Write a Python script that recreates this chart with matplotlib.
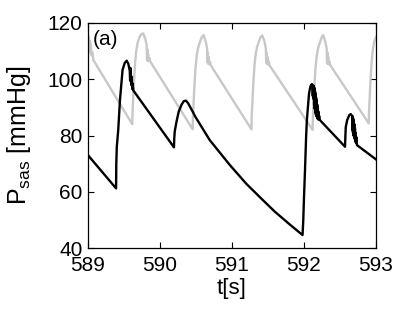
import matplotlib
matplotlib.use("Agg")
import matplotlib.pyplot as plt

plt.rcParams['font.family'] = ['Liberation Sans', 'DejaVu Sans']
plt.rcParams['mathtext.fontset'] = 'custom'
plt.rcParams['mathtext.rm'] = 'Liberation Sans'

# Grey series (reference pressure)
grey_t = [589.000, 589.015, 589.025, 589.030, 589.035, 589.040, 589.050, 589.060, 589.075,
          589.615, 589.618, 589.627, 589.640, 589.655, 589.670, 589.690, 589.715, 589.740, 589.765,
          589.795, 589.815, 589.820, 589.825, 589.830, 589.835, 589.845, 589.855, 589.865,
          590.454, 590.457, 590.466, 590.479, 590.494, 590.509, 590.529, 590.554, 590.579, 590.604,
          590.634, 590.654, 590.659, 590.664, 590.669, 590.674, 590.684, 590.694, 590.704,
          591.270, 591.273, 591.282, 591.295, 591.310, 591.325, 591.345, 591.370, 591.395, 591.420,
          591.450, 591.470, 591.475, 591.480, 591.485, 591.490, 591.500, 591.510, 591.520,
          592.120, 592.123, 592.132, 592.145, 592.160, 592.175, 592.195, 592.220, 592.245, 592.265,
          592.295, 592.315, 592.320, 592.325, 592.330, 592.335, 592.345, 592.355, 592.365,
          592.900, 592.903, 592.912, 592.925, 592.940, 592.955, 592.975, 593.000]
grey_p = [116.3, 114.0, 111.5, 113.5, 109.5, 112.0, 108.5, 109.5, 106.8,
          84.0, 88.0, 93.0, 100.0, 106.0, 110.0, 113.0, 115.0, 116.0, 116.3,
          114.5, 112.0, 107.0, 110.5, 106.5, 109.0, 106.5, 107.5, 106.3,
          82.2, 86.2, 91.2, 98.2, 104.2, 108.2, 111.2, 113.2, 114.9, 115.7,
          113.5, 111.0, 106.0, 109.5, 105.5, 108.0, 105.3, 106.3, 105.0,
          82.2, 86.2, 91.2, 98.2, 104.2, 108.2, 111.2, 113.2, 114.9, 115.6,
          113.5, 111.0, 106.0, 109.5, 105.5, 108.0, 105.3, 106.3, 105.0,
          82.0, 86.0, 91.0, 98.0, 104.0, 108.0, 111.0, 113.0, 114.9, 115.7,
          113.5, 111.0, 106.0, 109.5, 105.5, 108.0, 105.3, 106.3, 105.0,
          84.3, 88.3, 93.3, 100.3, 106.3, 110.3, 113.3, 115.0]

# Black series (P_sas)
black_t = [589.000, 589.390, 589.393, 589.400, 589.420, 589.444, 589.480, 589.510, 589.537,
           589.560, 589.580, 589.585, 589.590, 589.600, 589.605, 589.615, 589.620, 589.630,
           590.194, 590.198, 590.205, 590.230, 590.260, 590.300, 590.330, 590.360, 590.390,
           590.430, 590.460, 590.490, 590.690, 590.970, 591.200, 591.430, 591.600, 591.810,
           591.980, 591.990, 592.000, 592.014, 592.030, 592.040, 592.070, 592.090, 592.110,
           592.118, 592.122, 592.128, 592.132, 592.136, 592.140, 592.144, 592.148, 592.152,
           592.156, 592.160, 592.164, 592.168, 592.172, 592.176, 592.180, 592.184, 592.188,
           592.192, 592.196, 592.200, 592.205, 592.210, 592.220,
           592.570, 592.575, 592.580, 592.600, 592.630, 592.650, 592.668, 592.672, 592.676,
           592.680, 592.684, 592.688, 592.692, 592.696, 592.700, 592.704, 592.708, 592.712,
           592.716, 592.720, 592.726, 592.735, 593.000]
black_p = [73.0, 61.2, 70.0, 76.0, 82.0, 92.6, 103.3, 105.8, 106.6,
           105.5, 103.0, 99.5, 104.0, 98.0, 101.0, 96.5, 98.5, 96.0,
           75.8, 79.0, 81.5, 85.0, 88.5, 91.0, 92.2, 92.4, 91.5,
           89.6, 88.2, 86.7, 78.4, 69.5, 62.8, 57.0, 52.8, 48.2,
           44.6, 50.0, 58.0, 67.7, 80.0, 85.5, 95.0, 97.5, 98.3,
           96.5, 94.0, 97.8, 93.0, 97.5, 91.0, 97.0, 89.5, 96.0,
           88.5, 95.0, 87.5, 93.5, 87.0, 92.5, 86.5, 91.0, 86.0,
           90.0, 85.8, 88.5, 85.7, 87.0, 85.5,
           76.0, 80.0, 83.0, 85.5, 87.3, 87.6, 87.0, 82.0, 86.8,
           81.0, 86.0, 80.0, 85.0, 79.5, 84.0, 78.8, 82.5, 78.0,
           81.0, 77.5, 79.5, 76.6, 71.5]

x_ticks = [589, 590, 591, 592, 593]
y_ticks = [40, 60, 80, 100, 120]

fig = plt.figure(figsize=(4.15, 3.13), dpi=100)
ax = fig.add_axes([88/415, 65/313, 288/415, 225/313])

ax.plot(grey_t, grey_p, color='#c8c8c8', lw=1.7, zorder=2)
ax.plot(black_t, black_p, color='black', lw=1.7, zorder=3)

ax.set_xlim(589, 593)
ax.set_ylim(40, 120)
ax.set_xticks(x_ticks)
ax.set_yticks(y_ticks)
ax.tick_params(direction='in', top=True, right=True, labelsize=15, length=4, width=0.8)
ax.tick_params(axis='x', pad=6)
ax.tick_params(axis='y', pad=4)
for s in ax.spines.values():
    s.set_linewidth(0.9)

ax.set_xlabel('t[s]', fontsize=16, labelpad=2)
ax.set_ylabel(r'P$_{\mathrm{sas}}$ [mmHg]', fontsize=18)
ax.yaxis.set_label_coords(-0.19, 0.5)
ax.text(0.015, 0.97, '(a)', transform=ax.transAxes, fontsize=15, ha='left', va='top')

fig.savefig('out.png', dpi=100)
